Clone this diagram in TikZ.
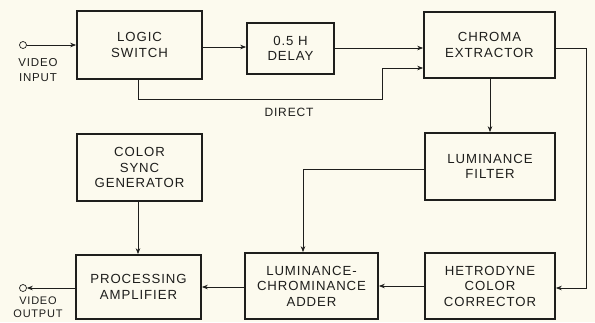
\documentclass[tikz,border=0pt]{standalone}
\usepackage{fontspec}
\setmainfont{Liberation Sans}[LetterSpace=7]
\usetikzlibrary{arrows.meta}
\definecolor{paper}{RGB}{252,250,238}
\definecolor{ink}{RGB}{30,30,28}
\tikzset{
  blk/.style={draw=ink, line width=1.7pt, inner sep=0pt, align=center, font=\fontsize{13.2}{15.5}\selectfont, text=ink},
  conn/.style={draw=ink, line width=0.7pt},
  arr/.style={conn, -{Stealth[length=6pt,width=4.5pt]}},
  term/.style={draw=ink, line width=0.7pt, circle, inner sep=0pt, minimum size=7pt},
  lbl/.style={font=\fontsize{11.5}{15}\selectfont, text=ink, align=center}
}
\begin{document}
\begin{tikzpicture}[x=1pt,y=-1pt]
\fill[paper] (0,0) rectangle (595,322);
\useasboundingbox (0,0) rectangle (595,322);
% boxes
\node[blk, minimum width=125pt, minimum height=68pt] (logic) at (139.5,45) {LOGIC\\SWITCH};
\node[blk, minimum width=87pt, minimum height=51pt] (delay) at (290.5,48.5) {0.5 H\\DELAY};
\node[blk, minimum width=131pt, minimum height=66pt] (chroma) at (489.5,45) {CHROMA\\EXTRACTOR};
\node[blk, minimum width=130pt, minimum height=67pt] (lumf) at (490,166.5) {LUMINANCE\\FILTER};
\node[blk, minimum width=125pt, minimum height=67pt] (sync) at (139.5,167.5) {COLOR\\SYNC\\GENERATOR};
\node[blk, minimum width=125pt, minimum height=64pt] (proc) at (138.5,287) {PROCESSING\\AMPLIFIER};
\node[blk, minimum width=133pt, minimum height=66pt] (adder) at (311.5,286) {LUMINANCE-\\CHROMINANCE\\ADDER};
\node[blk, minimum width=130pt, minimum height=66pt] (het) at (490,286) {HETRODYNE\\COLOR\\CORRECTOR};
% terminals
\node[term] (in) at (23,45) {};
\node[term] (out) at (23,288) {};
\node[lbl] (inl) at (38,70) {VIDEO\\INPUT};
\node[lbl, font=\fontsize{11}{12.5}\selectfont] (outl) at (38,307) {VIDEO\\OUTPUT};
\node[font=\fontsize{12}{14}\selectfont, text=ink] (direct) at (289,112) {DIRECT};
\coordinate (dA) at (138,99);
\coordinate (dB) at (382,99);
\coordinate (dC) at (382,68);
\coordinate (cR) at (586,48);
\coordinate (cD) at (586,288);
\coordinate (lfL) at (303,169);
% connectors
\draw[arr] (in) -- (in -| logic.west);
\draw[arr] (logic.east |- 0,47) -- (delay.west |- 0,47);
\draw[arr] (delay.east |- 0,48) -- (chroma.west |- 0,48);
\draw[arr] (logic.south -| dA) -- (dA) -- (dB) -- (dC) -- (chroma.west |- dC);
\draw[arr] (chroma.east |- cR) -- (cR) -- (cD) -- (het.east |- cD);
\draw[arr] (chroma.south -| lumf) -- (lumf.north);
\draw[arr] (lumf.west |- lfL) -- (lfL) -- (adder.north -| lfL);
\draw[arr] (het.west |- 0,286) -- (adder.east |- 0,286);
\draw[arr] (adder.west |- 0,287) -- (proc.east |- 0,287);
\draw[arr] (sync.south -| 138,0) -- (proc.north -| 138,0);
\draw[arr] (proc.west |- out) -- (out.east);
\end{tikzpicture}
\end{document}
